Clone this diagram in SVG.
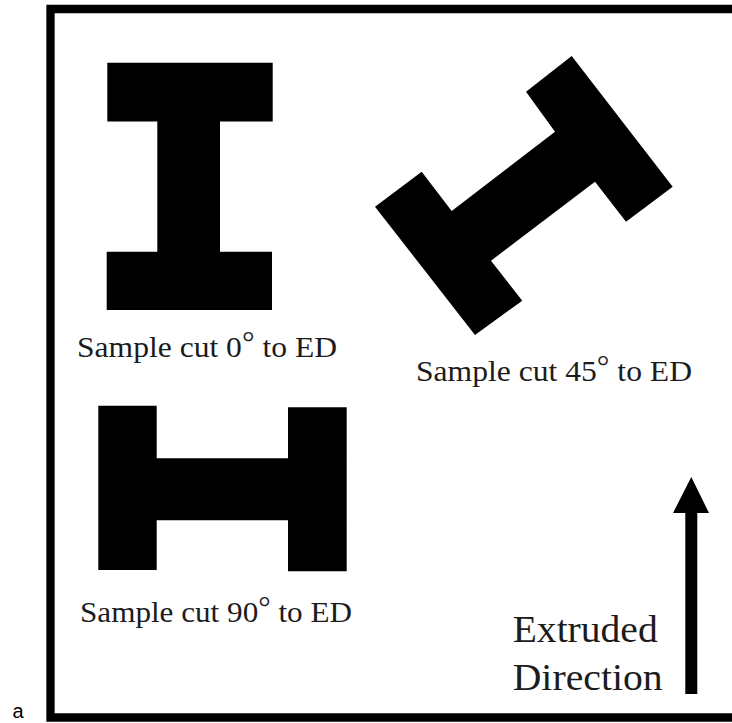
<svg xmlns="http://www.w3.org/2000/svg" width="732" height="723" viewBox="0 0 732 723">
<style>
.shape{fill:#000}
.lbl{font-family:"Liberation Serif","Times New Roman",serif;fill:#1c1c1c;font-size:30px}
.big{font-size:38px}
</style>
<rect width="732" height="723" fill="#fff"/>
<path id="frame" d="M732 9H50.500V717.500H732" fill="none" stroke="#000" stroke-width="8.300"/>
<g id="sample-0">
<path class="shape" d="M107.300 62.700H272.700V121.500H220V251.700H272V310H106.700V251.700H157.300V121.500H107.300Z"/>
<text class="lbl" x="77" y="357" textLength="260" lengthAdjust="spacingAndGlyphs">Sample cut 0<tspan dy="-5">°</tspan><tspan dy="5"> to ED</tspan></text>
</g>
<g id="sample-45">
<path class="shape" d="M571.700 56L672.700 186.700L626 221.700L595 181.700L491 260.700L522.300 300.700L475 335L375 206.700L421.700 171.700L451.700 211L555 131.700L526 91.700Z"/>
<text class="lbl" x="416" y="380.700" textLength="276" lengthAdjust="spacingAndGlyphs">Sample cut 45<tspan dy="-5">°</tspan><tspan dy="5"> to ED</tspan></text>
</g>
<g id="sample-90">
<path class="shape" d="M98.300 405.700H156.700V458.300H288V407.300H346.700V571.300H288V520.300H156.700V570H98.300Z"/>
<text class="lbl" x="80" y="621.700" textLength="272" lengthAdjust="spacingAndGlyphs">Sample cut 90<tspan dy="-5">°</tspan><tspan dy="5"> to ED</tspan></text>
</g>
<g id="connectors">
<path id="ed-arrow" class="shape" d="M691.300 477L709 513H697.300V694H685.300V513H673Z"/>
</g>
<g id="extruded-direction">
<text class="lbl big" x="512.700" y="641.700" textLength="145" lengthAdjust="spacingAndGlyphs">Extruded</text>
<text class="lbl big" x="512.700" y="690" textLength="150" lengthAdjust="spacingAndGlyphs">Direction</text>
</g>
<text id="panel-label" x="12.500" y="718" font-family="'Liberation Sans',Arial,sans-serif" font-size="20" fill="#000">a</text>
</svg>
